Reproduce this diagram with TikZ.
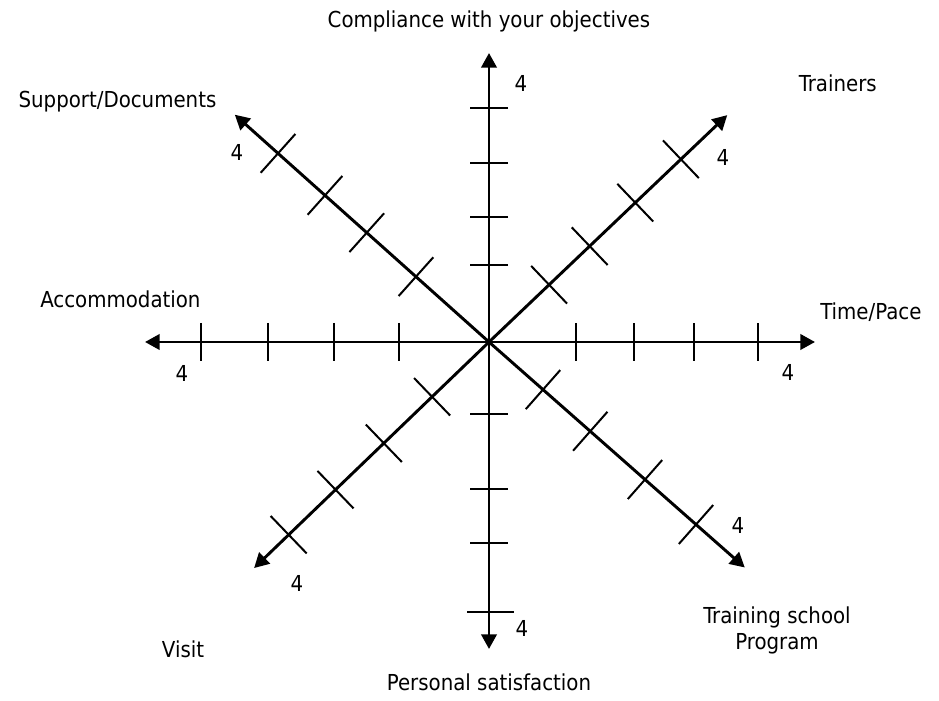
\documentclass[tikz,border=0pt]{standalone}
\usepackage{fontspec}
\setmainfont{DejaVu Sans Condensed}
\usetikzlibrary{arrows.meta}

\begin{document}
\begin{tikzpicture}[x=0.75pt,y=0.75pt,
    axis/.style={line width=2.2pt,-{Triangle[length=11pt,width=11.5pt]}},
    tick/.style={line width=1.5pt},
    lbl/.style={font=\fontsize{16.5}{19.5}\selectfont,inner sep=0pt}]
  \useasboundingbox (0,0) rectangle (939,700);
  \coordinate (O) at (489,358);

  % name/angle/length/half tick/tick positions
  \foreach \n/\a/\l/\h/\ds in {N/90/289/19/{77,125,179,234},
      S/270/307/19/{72,147,201},
      W/180/344/19/{90,155,221,288},
      E/0/326/19/{87,145,205,269},
      NW/138.2/341/26/{98,164,220,283},
      NE/43.6/329/26/{83,139,202,265},
      SW/223.9/326/26/{79,146,213,278},
      SE/318.6/341/26/{72,135,208,276}}{
    \begin{scope}[shift={(O)},rotate=\a]
      \coordinate (tip\n) at (\l,0);
      \foreach \d in \ds
        \draw[tick] (\d,-\h) -- (\d,\h);
    \end{scope}
    \draw[axis] (O) -- (tip\n);
  }
  % last tick of the lower axis is a bit longer
  \draw[tick] (467,88) -- (514,88);

  % the 4 at the end of each axis
  \node[lbl] (maxN) at (521,617) {4};
  \node[lbl] (maxS) at (522,72) {4};
  \node[lbl] (maxW) at (182,327) {4};
  \node[lbl] (maxE) at (788,328) {4};
  \node[lbl] (maxNW) at (237,548) {4};
  \node[lbl] (maxNE) at (723,543) {4};
  \node[lbl] (maxSW) at (297,117) {4};
  \node[lbl] (maxSE) at (738,175) {4};

  % axis names
  \node[lbl,anchor=base] (lblN) at (489,672.5) {Compliance with your objectives};
  \node[lbl,anchor=base] (lblNW) at (117.5,592) {Support/Documents};
  \node[lbl,anchor=base east] (lblNE) at (877,608) {Trainers};
  \node[lbl,anchor=base west] (lblW) at (40,392) {Accommodation};
  \node[lbl,anchor=base west] (lblE) at (820,380) {Time/Pace};
  \node[lbl,anchor=base] (lblSW) at (183,42) {Visit};
  \node[lbl,anchor=north,align=center] (lblSE) at (777,93) {Training school\\Program};
  \node[lbl,anchor=base] (lblS) at (489,10) {Personal satisfaction};
\end{tikzpicture}
\end{document}
